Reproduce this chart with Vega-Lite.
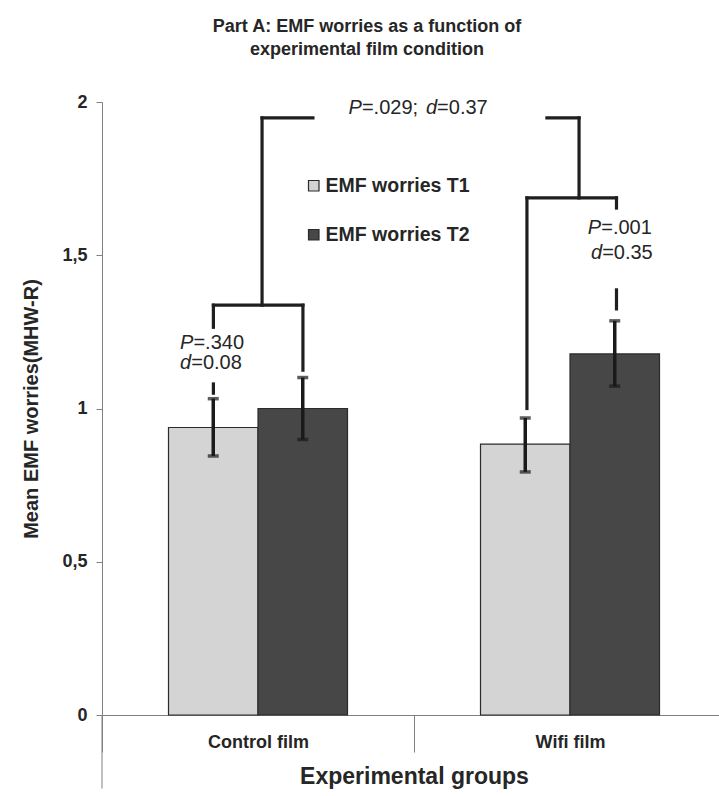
{
  "$schema": "https://vega.github.io/schema/vega-lite/v6.json",
  "width": 624,
  "height": 613,
  "autosize": "none",
  "padding": {"left": 102, "top": 102, "right": 0, "bottom": 81},
  "background": "white",
  "config": {
    "font": "Liberation Sans",
    "view": {"stroke": null},
    "axis": {"grid": false, "domainColor": "#808080", "tickColor": "#808080", "labelColor": "#262626", "titleColor": "#262626"}
  },
  "title": {
    "text": ["Part A: EMF worries as a function of", "experimental film condition"],
    "font": "Liberation Sans",
    "fontSize": 18,
    "fontWeight": "bold",
    "color": "#262626",
    "anchor": "middle",
    "frame": "group",
    "dx": -47,
    "lineHeight": 23,
    "offset": 34
  },
  "datasets": {
    "bars": [
      {"group": "Control film", "time": "EMF worries T1", "mean": 0.938, "lo": 0.845, "hi": 1.032},
      {"group": "Control film", "time": "EMF worries T2", "mean": 1.0, "lo": 0.899, "hi": 1.101},
      {"group": "Wifi film", "time": "EMF worries T1", "mean": 0.884, "lo": 0.793, "hi": 0.969},
      {"group": "Wifi film", "time": "EMF worries T2", "mean": 1.178, "lo": 1.073, "hi": 1.286}
    ],
    "brackets": [
      {"x": 0.357, "x2": 0.644, "y": 1.337, "y2": 1.337},
      {"x": 0.357, "x2": 0.357, "y": 1.337, "y2": 1.265},
      {"x": 0.357, "x2": 0.357, "y": 1.080, "y2": 1.050},
      {"x": 0.644, "x2": 0.644, "y": 1.337, "y2": 1.125},
      {"x": 0.513, "x2": 0.513, "y": 1.337, "y2": 1.948},
      {"x": 0.513, "x2": 0.676, "y": 1.948, "y2": 1.948},
      {"x": 1.426, "x2": 1.529, "y": 1.948, "y2": 1.948},
      {"x": 1.529, "x2": 1.529, "y": 1.948, "y2": 1.687},
      {"x": 1.362, "x2": 1.649, "y": 1.687, "y2": 1.687},
      {"x": 1.362, "x2": 1.362, "y": 1.687, "y2": 1.000},
      {"x": 1.649, "x2": 1.649, "y": 1.687, "y2": 1.654},
      {"x": 1.649, "x2": 1.649, "y": 1.387, "y2": 1.325}
    ],
    "stats": [
      {"x": 0.293, "y": 1.213, "sym": "P", "rest": "=.340"},
      {"x": 0.286, "y": 1.148, "sym": "d", "rest": "=0.08"},
      {"x": 0.833, "y": 1.982, "sym": "P", "rest": "=.029;"},
      {"x": 1.074, "y": 1.982, "sym": "d", "rest": "=0.37"},
      {"x": 1.600, "y": 1.589, "sym": "P", "rest": "=.001"},
      {"x": 1.603, "y": 1.507, "sym": "d", "rest": "=0.35"}
    ],
    "frame": [
      {"x": 0, "y": 0, "y2": -0.24}
    ]
  },
  "layer": [
    {
      "data": {"name": "bars"},
      "encoding": {
        "x": {
          "field": "group",
          "type": "nominal",
          "sort": ["Control film", "Wifi film"],
          "scale": {"paddingInner": 0, "paddingOuter": 0},
          "axis": {
            "title": "Experimental groups",
            "titleFontSize": 23,
            "titleFontWeight": "bold",
            "titlePadding": 13,
            "labelAngle": 0,
            "labelFontSize": 18,
            "labelFontWeight": "bold",
            "tickBand": "extent",
            "tickSize": 37,
            "labelPadding": -19,
            "domainColor": "#808080"
          }
        },
        "xOffset": {
          "field": "time",
          "type": "nominal",
          "scale": {"paddingInner": 0, "paddingOuter": 0.743}
        }
      },
      "layer": [
        {
          "mark": {"type": "bar", "stroke": "#2b2b2b", "strokeWidth": 1.2},
          "encoding": {
            "y": {
              "field": "mean",
              "type": "quantitative",
              "scale": {"domain": [0, 2], "nice": false},
              "axis": {
                "values": [0, 0.5, 1, 1.5, 2],
                "format": "~g",
                "labelExpr": "replace(datum.label, '.', ',')",
                "title": "Mean EMF worries(MHW-R)",
                "titleFontSize": 20,
                "titleFontWeight": "bold",
                "titlePadding": 20,
                "labelFontSize": 18,
                "labelFontWeight": "bold",
                "tickSize": 6,
                "labelPadding": 9
              }
            },
            "color": {
              "field": "time",
              "type": "nominal",
              "scale": {"domain": ["EMF worries T1", "EMF worries T2"], "range": ["#d4d4d4", "#474747"]},
              "legend": {
                "title": null,
                "orient": "none",
                "legendX": 202,
                "legendY": 74,
                "symbolType": "square",
                "symbolSize": 110,
                "symbolStrokeColor": "#2b2b2b",
                "symbolStrokeWidth": 1.2,
                "labelFontSize": 19.5,
                "labelFontWeight": "bold",
                "labelColor": "#262626",
                "labelOffset": 2,
                "rowPadding": 28,
                "padding": 0
              }
            }
          }
        },
        {
          "mark": {"type": "rule", "color": "#1a1a1a", "strokeWidth": 3.5},
          "encoding": {
            "y": {"field": "lo", "type": "quantitative", "scale": {"domain": [0, 2], "nice": false}},
            "y2": {"field": "hi"}
          }
        },
        {
          "mark": {"type": "tick", "color": "#1a1a1a", "size": 11, "thickness": 3.5},
          "encoding": {
            "y": {"field": "lo", "type": "quantitative", "scale": {"domain": [0, 2], "nice": false}}
          }
        },
        {
          "mark": {"type": "tick", "color": "#1a1a1a", "size": 11, "thickness": 3.5},
          "encoding": {
            "y": {"field": "hi", "type": "quantitative", "scale": {"domain": [0, 2], "nice": false}}
          }
        }
      ]
    },
    {
      "encoding": {
        "x": {"field": "x", "type": "quantitative", "scale": {"domain": [0, 2], "nice": false, "zero": false}, "axis": null},
        "y": {"field": "y", "type": "quantitative", "scale": {"domain": [0, 2], "nice": false}}
      },
      "layer": [
        {
          "data": {"name": "brackets"},
          "mark": {"type": "rule", "color": "#1f1f1f", "strokeWidth": 3.2, "strokeCap": "square"},
          "encoding": {"x2": {"field": "x2"}, "y2": {"field": "y2"}}
        },
        {
          "data": {"name": "frame"},
          "mark": {"type": "rule", "color": "#808080", "strokeWidth": 1},
          "encoding": {"y2": {"field": "y2"}}
        },
        {
          "data": {"name": "stats"},
          "mark": {"type": "text", "align": "right", "baseline": "middle", "fontSize": 20, "fontStyle": "italic", "color": "#262626"},
          "encoding": {"text": {"field": "sym"}}
        },
        {
          "data": {"name": "stats"},
          "mark": {"type": "text", "align": "left", "baseline": "middle", "fontSize": 20, "color": "#262626"},
          "encoding": {"text": {"field": "rest"}}
        }
      ]
    }
  ],
  "resolve": {"scale": {"x": "independent"}, "axis": {"x": "independent"}}
}
